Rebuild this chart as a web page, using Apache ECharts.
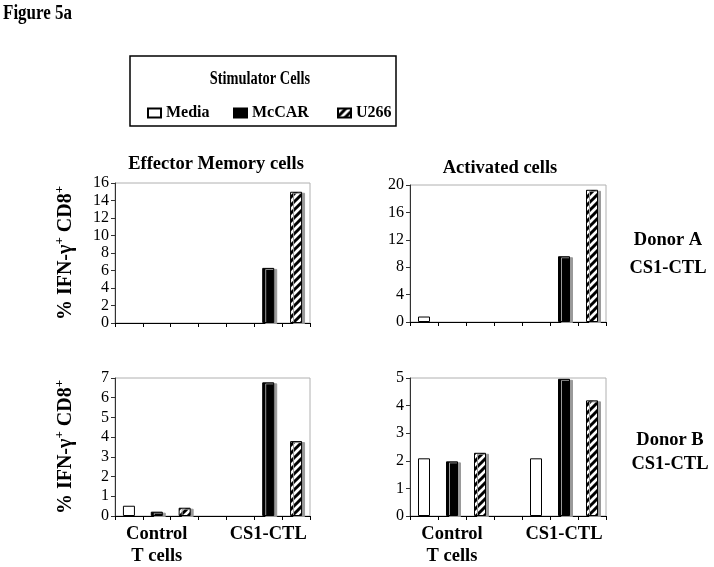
<!DOCTYPE html>
<html>
<head>
<meta charset="utf-8">
<script src="https://cdn.jsdelivr.net/npm/echarts@6/dist/echarts.min.js"></script>
<style>
html,body{margin:0;padding:0;background:#fff;}
#chart{width:714px;height:567px;}
</style>
</head>
<body>
<div id="chart"></div>
<script>
// ---- data ----
const stimulators = ['Media', 'McCAR', 'U266'];
const slotLabels = ['', 'Control\nT cells', '', '', '', 'CS1-CTL', ''];
// Donor A, Effector Memory cells: [Media, McCAR, U266]
const emA_control = [0, 0, 0];
const emA_cs1 = [0, 6.3, 15.0];
// Donor A, Activated cells
const actA_control = [0.8, 0, 0];
const actA_cs1 = [0, 9.6, 19.3];
// Donor B, Effector Memory cells
const emB_control = [0.52, 0.22, 0.42];
const emB_cs1 = [0, 6.78, 3.8];
// Donor B, Activated cells
const actB_control = [2.09, 1.98, 2.29];
const actB_cs1 = [2.09, 4.97, 4.19];
// y axis ticks
const yTicksEM_A = {max: 16, interval: 2};
const yTicksAct_A = {max: 20, interval: 4};
const yTicksEM_B = {max: 7, interval: 1};
const yTicksAct_B = {max: 5, interval: 1};

// ---- hatch pattern ----
function hatch() {
  const c = document.createElement('canvas');
  c.width = 8; c.height = 8;
  const g = c.getContext('2d');
  g.fillStyle = '#fff'; g.fillRect(0, 0, 8, 8);
  g.strokeStyle = '#000'; g.lineWidth = 3;
  g.beginPath();
  g.moveTo(-2, 10); g.lineTo(10, -2);
  g.moveTo(-6, 6); g.lineTo(6, -6);
  g.moveTo(2, 14); g.lineTo(14, 2);
  g.stroke();
  return c;
}
const hatchImg = hatch();

const serif = 'Liberation Serif';
const styles = [
  {color: '#fff', borderColor: '#000', borderWidth: 1},
  {color: '#000', borderColor: '#000', borderWidth: 1, shadowColor: '#9a9a9a', shadowOffsetX: 3, shadowOffsetY: 1, shadowBlur: 0},
  {color: {image: hatchImg, repeat: 'repeat'}, borderColor: '#000', borderWidth: 1, shadowColor: '#9a9a9a', shadowOffsetX: 3, shadowOffsetY: 1, shadowBlur: 0}
];

function slotData(control, cs1, i) {
  const d = slotLabels.map(() => '-');
  d[i] = control[i] === 0 ? '-' : control[i];
  d[4 + i] = cs1[i] === 0 ? '-' : cs1[i];
  return d;
}

const panels = [
  {control: emA_control, cs1: emA_cs1, ticks: yTicksEM_A, grid: {left: 115, top: 183, width: 195, height: 140}, name: true, labels: false},
  {control: actA_control, cs1: actA_cs1, ticks: yTicksAct_A, grid: {left: 410, top: 185, width: 196, height: 137}, name: false, labels: false},
  {control: emB_control, cs1: emB_cs1, ticks: yTicksEM_B, grid: {left: 115, top: 378, width: 195, height: 140}, name: true, labels: true},
  {control: actB_control, cs1: actB_cs1, ticks: yTicksAct_B, grid: {left: 410, top: 378, width: 196, height: 139}, name: false, labels: true}
];

const grid = [], xAxis = [], yAxis = [], series = [];
panels.forEach((p, k) => {
  grid.push(Object.assign({show: true, borderColor: '#b0b0b0', borderWidth: 1, backgroundColor: 'transparent'}, p.grid));
  xAxis.push({
    type: 'category', gridIndex: k, data: slotLabels, boundaryGap: true,
    axisLine: {lineStyle: {color: '#000', width: 1}},
    axisTick: {show: true, length: 4, lineStyle: {color: '#000'}, interval: 0},
    axisLabel: {show: p.labels, interval: 0, color: '#000', fontFamily: serif, fontWeight: 'bold', fontSize: 18.5, lineHeight: 22, margin: 7},
    splitLine: {show: false}
  });
  yAxis.push({
    type: 'value', gridIndex: k, min: 0, max: p.ticks.max, interval: p.ticks.interval,
    axisLine: {show: true, lineStyle: {color: '#333', width: 1}},
    axisTick: {show: true, length: 4, lineStyle: {color: '#333'}},
    axisLabel: {color: '#000', fontFamily: serif, fontSize: 16, margin: 6},
    splitLine: {show: false},
    name: p.name ? '{b|% IFN-γ}{s|+}{b| CD8}{s|+}' : '',
    nameLocation: 'middle', nameGap: 37, nameRotate: 90,
    nameTextStyle: {
      color: '#000', fontFamily: serif, fontWeight: 'bold', fontSize: 20,
      rich: {
        b: {fontFamily: serif, fontWeight: 'bold', fontSize: 20, color: '#000'},
        s: {fontFamily: serif, fontWeight: 'bold', fontSize: 13, color: '#000', padding: [0, 0, 12, 0]}
      }
    }
  });
  stimulators.forEach((s, i) => {
    series.push({
      type: 'bar', name: s, xAxisIndex: k, yAxisIndex: k,
      data: slotData(p.control, p.cs1, i),
      barWidth: 12, barGap: '-100%',
      itemStyle: styles[i],
      emphasis: {disabled: true},
      silent: true
    });
  });
});

const txt = (x, y, text, size, extra) => Object.assign({
  type: 'text', x: x, y: y,
  style: {text: text, fill: '#000', font: 'bold ' + size + 'px "Liberation Serif"', textAlign: 'center', textVerticalAlign: 'middle'}
}, extra || {});

const legendBase = {
  top: 100, itemWidth: 13, itemHeight: 9, icon: 'rect', itemGap: 0,
  textStyle: {fontFamily: serif, fontWeight: 'bold', fontSize: 16, color: '#000'},
  selectedMode: false
};
const legendLefts = [142, 228, 332];

const chart = echarts.init(document.getElementById('chart'), null, {renderer: 'canvas'});
chart.setOption({
  animation: false,
  backgroundColor: '#fff',
  grid: grid, xAxis: xAxis, yAxis: yAxis, series: series,
  legend: stimulators.map((s, i) => Object.assign({}, legendBase, {data: [s], left: legendLefts[i]})),
  graphic: [
    {type: 'rect', shape: {x: 130, y: 56, width: 266, height: 70}, style: {fill: 'none', stroke: '#000', lineWidth: 1.5}},
    txt(260, 79, 'Stimulator Cells', 18, {scaleX: 0.8, originX: 0, originY: 0}),
    txt(3, 14, 'Figure 5a', 20, {scaleX: 0.85, originX: 0, originY: 0, style: {text: 'Figure 5a', fill: '#000', font: 'bold 20px "Liberation Serif"', textAlign: 'left', textVerticalAlign: 'middle'}}),
    txt(216, 164, 'Effector Memory cells', 18.5),
    txt(500, 168, 'Activated cells', 18.5),
    txt(668, 240, 'Donor A', 18.5),
    txt(668, 268, 'CS1-CTL', 18.5),
    txt(670, 440, 'Donor B', 18.5),
    txt(670, 464, 'CS1-CTL', 18.5)
  ]
});
</script>
</body>
</html>
